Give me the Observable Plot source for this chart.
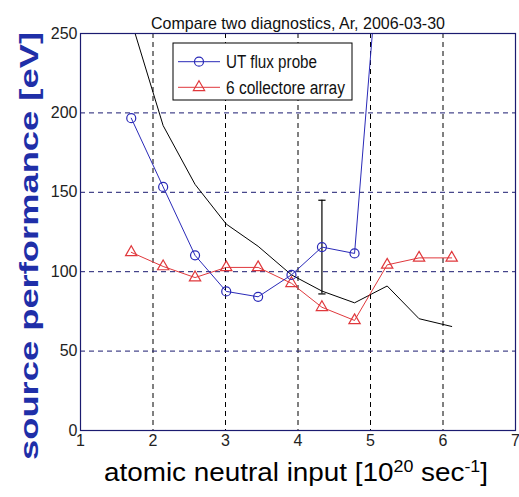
<!DOCTYPE html>
<html>
<head>
<meta charset="utf-8">
<script src="https://cdn.jsdelivr.net/npm/d3@7"></script>
<script src="https://cdn.jsdelivr.net/npm/@observablehq/plot@0.6"></script>
<style>
  body { margin: 0; background: #fff; }
  #chart { position: relative; width: 519px; height: 497px; }
</style>
</head>
<body>
<div id="chart"></div>
<script>
// Neutral input values shared by the measurements and the model curve [1e20 /s]
const neutralInput = [1.70, 2.14, 2.58, 3.01, 3.45, 3.91, 4.33, 4.78, 5.23, 5.67, 6.12];

// UT flux probe: last point runs off the top of the axes
const utProbeX = [1.70, 2.14, 2.58, 3.01, 3.45, 3.91, 4.33, 4.78, 5.10];
const utProbeEv = [196.7, 153.4, 110.3, 87.6, 84.2, 98.0, 115.5, 111.5, 292];

// 6 collectore array
const collectorEv = [112.2, 103.3, 96.3, 102.7, 102.7, 92.7, 77.6, 69.3, 104.3, 108.7, 108.7];

// model curve (black)
const modelEv = [258, 192, 155, 130, 116, 98, 87.8, 80.4, 91, 70.4, 65.5];

// error bar on the probe point at 4.33
const errX = [4.33];
const errLow = [86];
const errHigh = [145];

const xTicks = [1, 2, 3, 4, 5, 6, 7];
const yTicks = [0, 50, 100, 150, 200, 250];
const seriesNames = ["UT flux probe", "6 collectore array"];
const titleText = "Compare two diagnostics, Ar, 2006-03-30";
const yLabelText = "source performance [eV]";

const blue = "#2a2ab8";
const red = "#e0383c";
const navy = "#1b1b70";
const narrow = "'Liberation Sans Narrow', 'Arial Narrow', 'Liberation Sans', sans-serif";
const sans = "'Liberation Sans', Arial, sans-serif";

const probe = utProbeX.map((x, i) => ({x, y: utProbeEv[i]}));
const collector = neutralInput.map((x, i) => ({x, y: collectorEv[i]}));
const model = neutralInput.map((x, i) => ({x, y: modelEv[i]}));
const errs = errX.map((x, i) => ({x, lo: errLow[i], hi: errHigh[i]}));
const capHalf = 0.05;

const svg = Plot.plot({
  width: 519,
  height: 497,
  marginLeft: 80,
  marginRight: 4,
  marginTop: 33,
  marginBottom: 67,
  style: {fontFamily: sans, fontSize: "16px", color: "#222", background: "#fff"},
  x: {domain: [1, 7]},
  y: {domain: [0, 250]},
  marks: [
    Plot.gridX(xTicks.slice(1, -1), {stroke: "#000", strokeOpacity: 1, strokeDasharray: "5,4"}),
    Plot.gridY(yTicks.slice(1, -1), {stroke: navy, strokeOpacity: 1, strokeDasharray: "5,4"}),
    Plot.axisX(xTicks, {tickSize: 0, tickPadding: 4, label: null, fontSize: 16}),
    Plot.axisY(yTicks, {tickSize: 0, tickPadding: 3, label: null, fontSize: 16}),
    // model curve
    Plot.line(model, {x: "x", y: "y", stroke: "#000", strokeWidth: 1, clip: true}),
    // error bar
    Plot.ruleX(errs, {x: "x", y1: "lo", y2: "hi", stroke: "#000", strokeWidth: 1.2}),
    Plot.link(errs, {x1: d => d.x - capHalf, x2: d => d.x + capHalf, y1: "hi", y2: "hi", stroke: "#000", strokeWidth: 1.2}),
    Plot.link(errs, {x1: d => d.x - capHalf, x2: d => d.x + capHalf, y1: "lo", y2: "lo", stroke: "#000", strokeWidth: 1.2}),
    // 6 collectore array
    Plot.line(collector, {x: "x", y: "y", stroke: red, strokeWidth: 1, clip: true}),
    Plot.dot(collector, {x: "x", y: "y", symbol: "triangle", r: 4.2, stroke: red, strokeWidth: 1.2, fill: "none", clip: true}),
    // UT flux probe
    Plot.line(probe, {x: "x", y: "y", stroke: blue, strokeWidth: 1, clip: true}),
    Plot.dot(probe, {x: "x", y: "y", symbol: "circle", r: 4.5, stroke: blue, strokeWidth: 1.2, fill: "none", clip: true}),
    Plot.frame({stroke: navy, strokeWidth: 1.2}),
    // title
    Plot.text([titleText], {frameAnchor: "top", dy: -17, fontSize: 17, fontFamily: narrow, fill: "#111", className: "ttl"})
  ]
});

document.getElementById("chart").appendChild(svg);
const root = d3.select(svg);

root.select(".ttl text").attr("textLength", 294).attr("lengthAdjust", "spacingAndGlyphs");

// y-axis label, reading bottom to top
root.append("text")
  .attr("transform", "translate(38,460) rotate(-90)")
  .attr("text-anchor", "start")
  .attr("font-family", sans)
  .attr("font-size", 25)
  .attr("font-weight", "bold")
  .attr("fill", "#1f2fa8")
  .attr("textLength", 428)
  .attr("lengthAdjust", "spacingAndGlyphs")
  .text(yLabelText);

// x-axis label with superscripts
const xl = root.append("text")
  .attr("x", 104).attr("y", 481)
  .attr("text-anchor", "start")
  .attr("font-family", sans)
  .attr("font-size", 25)
  .attr("fill", "#000")
  .attr("textLength", 384)
  .attr("lengthAdjust", "spacingAndGlyphs");
xl.append("tspan").text("atomic neutral input [10");
xl.append("tspan").attr("font-size", 16).attr("dy", -9).text("20");
xl.append("tspan").attr("dy", 9).text(" sec");
xl.append("tspan").attr("font-size", 16).attr("dy", -9).text("-1");
xl.append("tspan").attr("dy", 9).text("]");

// legend box
const lg = root.append("g").attr("transform", "translate(173,43)");
lg.append("rect").attr("width", 179).attr("height", 57).attr("fill", "#fff").attr("stroke", "#000").attr("stroke-width", 1);
const entries = [
  {name: seriesNames[0], color: blue, sym: d3.symbolCircle, r: 4.5, y: 18.7, len: 91},
  {name: seriesNames[1], color: red, sym: d3.symbolTriangle, r: 4.2, y: 44.3, len: 119}
];
for (const e of entries) {
  lg.append("line").attr("x1", 5).attr("x2", 47).attr("y1", e.y).attr("y2", e.y).attr("stroke", e.color).attr("stroke-width", 1);
  lg.append("path").attr("transform", `translate(26,${e.y})`)
    .attr("d", d3.symbol(e.sym, e.r * e.r * Math.PI)())
    .attr("fill", "none").attr("stroke", e.color).attr("stroke-width", 1.2);
  lg.append("text").attr("x", 53).attr("y", e.y).attr("dy", "0.35em")
    .attr("text-anchor", "start")
    .attr("font-family", narrow).attr("font-size", 18).attr("fill", "#111")
    .attr("textLength", e.len).attr("lengthAdjust", "spacingAndGlyphs")
    .text(e.name);
}
</script>
</body>
</html>
